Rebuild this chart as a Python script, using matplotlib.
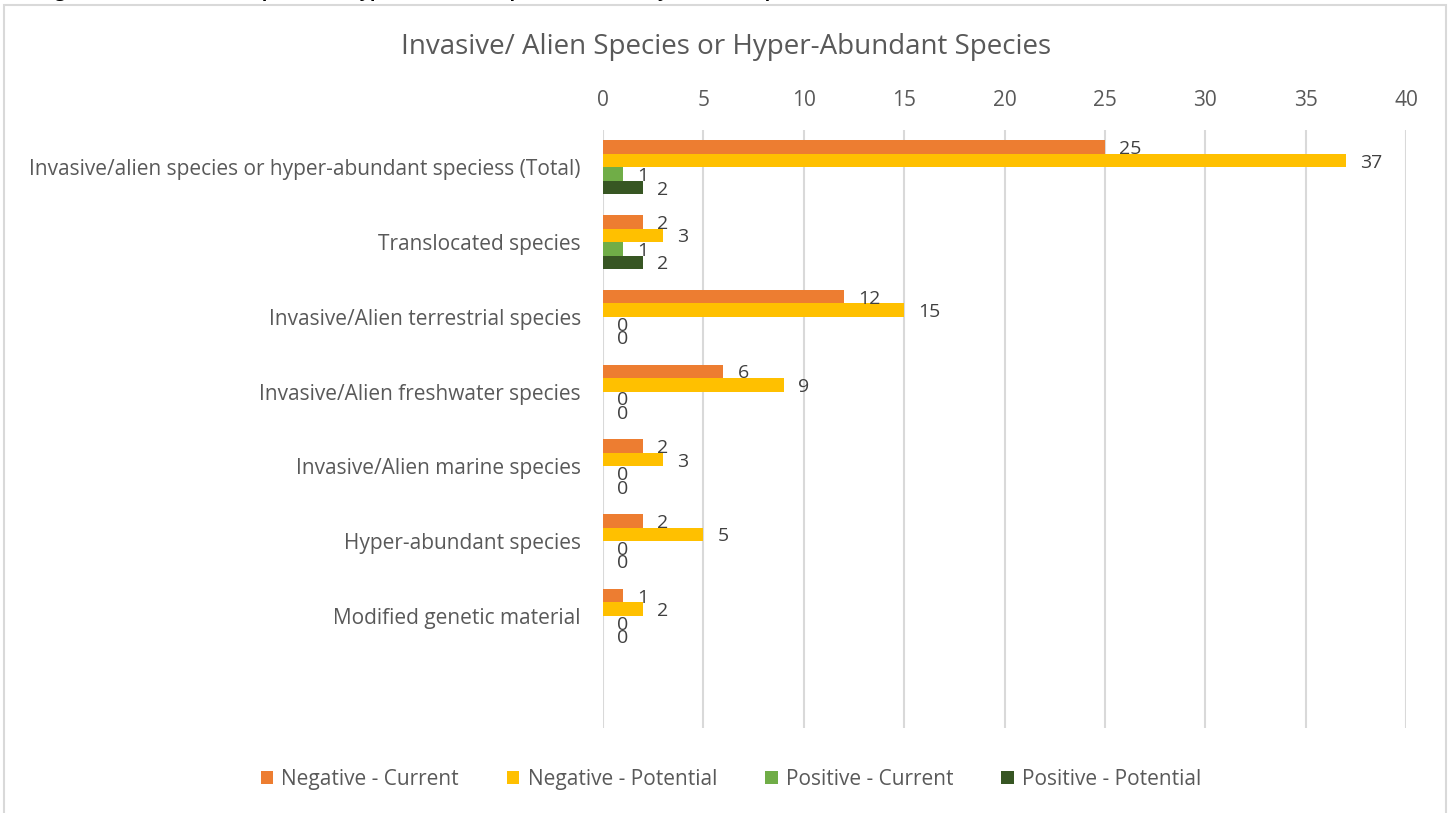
import matplotlib
matplotlib.use("Agg")
import matplotlib.pyplot as plt
from matplotlib.patches import Rectangle
import numpy as np

plt.rcParams['font.family'] = ['Open Sans', 'DejaVu Sans']

categories = ["Invasive/alien species or hyper-abundant speciess (Total)",
              "Translocated species",
              "Invasive/Alien terrestrial species",
              "Invasive/Alien freshwater species",
              "Invasive/Alien marine species",
              "Hyper-abundant species",
              "Modified genetic material",
              ""]
series_names = ["Negative - Current", "Negative - Potential",
                "Positive - Current", "Positive - Potential"]
neg_cur = [25, 2, 12, 6, 2, 2, 1]
neg_pot = [37, 3, 15, 9, 3, 5, 2]
pos_cur = [1, 1, 0, 0, 0, 0, 0]
pos_pot = [2, 2, 0, 0, 0, 0, 0]
x_ticks = [0, 5, 10, 15, 20, 25, 30, 35, 40]

colors = ["#ED7D31", "#FFC000", "#70AD47", "#375623"]
text_col = "#595959"

fig = plt.figure(figsize=(14.5, 8.13), dpi=100)
W, H = 1450, 813

# chart frame
fig.patches.append(Rectangle((4 / W, -0.1), 1442 / W, 1.1 - 5 / H,
                             transform=fig.transFigure, fill=False,
                             edgecolor="#D9D9D9", linewidth=1.5))

# clipped caption above chart (only its lower edge is visible)
fig.text(40 / W, 1 + 3 / H, "Figure 4: Invasive/Alien Species or Hyper-Abundant Species: Secondary Nature Impact",
         fontsize=13, fontweight="bold", color="black", ha="left", va="baseline")

ax = fig.add_axes([603 / W, 1 - 728 / H, (1406 - 603) / W, (728 - 130) / H])

series = [neg_cur, neg_pot, pos_cur, pos_pot]
offsets = [-0.27, -0.09, 0.09, 0.27]
h = 0.18
for vals, off, c, name in zip(series, offsets, colors, series_names):
    y = np.arange(len(vals)) + off
    ax.barh(y, vals, height=h, color=c, label=name, zorder=3)
    for yi, v in zip(y, vals):
        ax.annotate(str(v), xy=(v, yi), xytext=(14, -2), textcoords="offset pixels",
                    ha="left", va="center", fontsize=14, color="#404040", zorder=4)

ax.set_xlim(0, 40)
ax.set_ylim(len(categories) - 0.5, -0.5)
ax.set_yticks(np.arange(len(categories)))
ax.set_yticklabels(categories, fontsize=15, color=text_col)
ax.set_xticks(x_ticks)
ax.set_xticklabels([str(t) for t in x_ticks], fontsize=15, color=text_col)
ax.xaxis.tick_top()
ax.tick_params(axis="both", length=0)
ax.tick_params(axis="y", pad=16)
ax.tick_params(axis="x", pad=14)
ax.grid(axis="x", color="#D9D9D9", linewidth=1.5, zorder=0)
for s in ax.spines.values():
    s.set_visible(False)

fig.text(726 / W, 1 - 47 / H, "Invasive/ Alien Species or Hyper-Abundant Species",
         fontsize=20, color=text_col, ha="center", va="center")

handles, labels = ax.get_legend_handles_labels()
fig.legend(handles, labels, loc="center", bbox_to_anchor=(731 / W, 1 - 779 / H),
           ncol=4, frameon=False, fontsize=15, labelcolor=text_col,
           handlelength=0.6, handleheight=0.6, handletextpad=0.4, columnspacing=2.3)

fig.savefig("out.png", dpi=100)
